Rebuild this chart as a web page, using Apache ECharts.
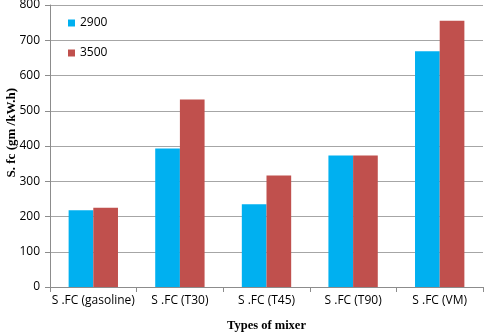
<!DOCTYPE html>
<html>
<head>
<meta charset="utf-8">
<script src="https://cdn.jsdelivr.net/npm/echarts@6/dist/echarts.min.js"></script>
<style>
  html, body { margin: 0; padding: 0; background: #fff; }
  #main { width: 484px; height: 333px; }
</style>
</head>
<body>
<div id="main"></div>
<script>
const categories = ['S .FC (gasoline)', 'S .FC (T30)', 'S .FC (T45)', 'S .FC (T90)', 'S .FC (VM)'];
const s2900 = [218, 393, 235, 373, 669];
const s3500 = [225, 532, 316, 373, 755];
const yTicks = [0, 100, 200, 300, 400, 500, 600, 700, 800];

const chart = echarts.init(document.getElementById('main'));
const labelFont = 'Open Sans, Noto Sans, sans-serif';
const titleFont = 'Liberation Serif, DejaVu Serif, serif';

chart.setOption({
  animation: false,
  grid: { left: 50, right: 1, top: 5, bottom: 46, outerBoundsMode: 'none' },
  legend: {
    orient: 'vertical',
    left: 63,
    top: 12,
    itemWidth: 7,
    itemHeight: 7,
    itemGap: 18,
    icon: 'rect',
    textStyle: { fontFamily: labelFont, fontSize: 12, color: '#000' },
    data: ['2900', '3500']
  },
  graphic: [{
    type: 'text',
    left: 5,
    top: 88,
    rotation: Math.PI / 2,
    style: {
      text: 'S. fc (gm /kW.h)',
      font: 'bold 13px ' + titleFont,
      fill: '#000'
    }
  }],
  xAxis: {
    type: 'category',
    data: categories,
    name: 'Types of mixer',
    nameLocation: 'middle',
    nameGap: 32,
    nameTextStyle: { fontFamily: titleFont, fontWeight: 'bold', fontSize: 12.5, color: '#000' },
    axisLine: { lineStyle: { color: '#8c8c8c' } },
    axisTick: { show: true, length: 5, lineStyle: { color: '#8c8c8c' } },
    axisLabel: { fontFamily: labelFont, fontSize: 12, color: '#000', margin: 8, interval: 0 }
  },
  yAxis: {
    type: 'value',
    min: yTicks[0],
    max: yTicks[yTicks.length - 1],
    interval: 100,
    axisLine: { show: true, lineStyle: { color: '#8c8c8c' } },
    axisTick: { show: true, length: 5, lineStyle: { color: '#8c8c8c' } },
    axisLabel: { fontFamily: labelFont, fontSize: 12, color: '#000', margin: 10 },
    splitLine: { lineStyle: { color: '#a6a6a6' } }
  },
  series: [
    {
      name: '2900', type: 'bar', data: s2900,
      barGap: '0%', barCategoryGap: '43%',
      itemStyle: { color: '#00B0F0' }
    },
    {
      name: '3500', type: 'bar', data: s3500,
      itemStyle: { color: '#C0504D' }
    }
  ]
});
</script>
</body>
</html>
